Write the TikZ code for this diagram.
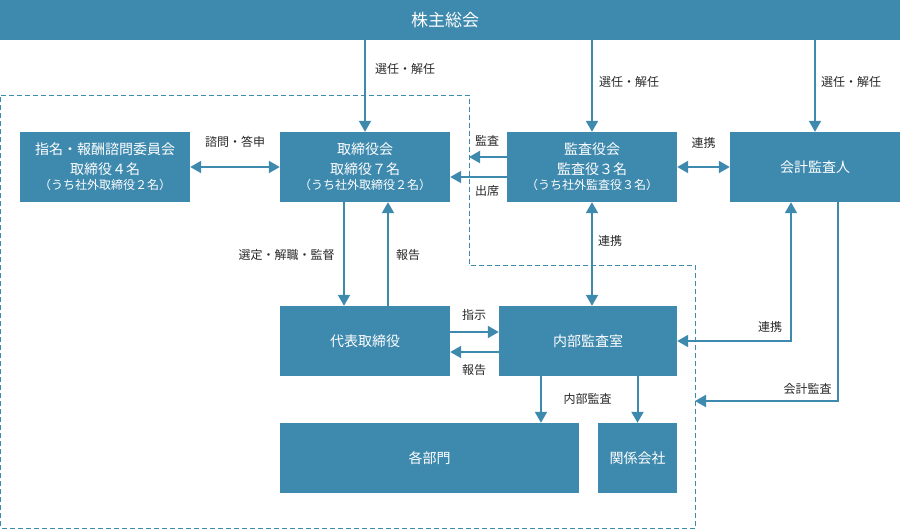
\documentclass[tikz,border=0pt]{standalone}
\usepackage{fontspec}
\setmainfont{Noto Sans CJK JP}
\usetikzlibrary{positioning,arrows.meta,calc}
\definecolor{orgblue}{RGB}{62,137,174}
\definecolor{notegray}{RGB}{40,40,40}
\newcommand{\nebentext}[1]{{\fontsize{12}{15}\selectfont #1}}
\tikzset{
>={Triangle[width=12pt,length=11pt]},
  organ/.style={
    rectangle,
    fill=orgblue,
    text=white,
    minimum width=170pt,
    minimum height=70pt,
    inner sep=0pt,
    align=center,
    font=\fontsize{14}{20}\selectfont},
  line/.style={draw=orgblue, line width=2pt},
  edgetext/.style={text=notegray, inner sep=0pt,
    font=\fontsize{12}{14}\selectfont},
  scopeline/.style={draw=orgblue, line width=1pt, dash pattern=on 5pt off 3pt},
}

\begin{document}
\begin{tikzpicture}[x=1pt,y=-1pt]
  \useasboundingbox (0,0) rectangle (900,530);
  % the dashed area first, so the boxes lie on top
  \coordinate (dA) at (0.5,95);
  \coordinate (dB) at (469,95);
  \coordinate (dC) at (469,265);
  \coordinate (dD) at (695,265);
  \coordinate (dE) at (695,528);
  \coordinate (dF) at (0.5,528);
  \coordinate (kaikeiin) at (695,401);
  \draw[scopeline] (dA) -- (dB) -- (dC) -- (dD) -- (dE) -- (dF) -- cycle;

  \node[organ, minimum width=900pt, minimum height=40pt] (soukai) at (450,20) {};
  \node[text=white, inner sep=0pt, font=\fontsize{17}{20}\selectfont]
    (soukaitxt) at (445,20) {株主総会};
  \node[organ] (iinkai) at (105,167)
    {指名・報酬諮問委員会\\取締役４名\\[-5pt]\nebentext{（うち社外取締役２名）}};
  \node[organ] (torishimari) at (365,167)
    {取締役会\\取締役７名\\[-5pt]\nebentext{（うち社外取締役２名）}};
  \node[organ] (kansa) at (592,167)
    {監査役会\\監査役３名\\[-5pt]\nebentext{（うち社外監査役３名）}};
  \node[organ] (kaikei) at (815,167) {会計監査人};
  \node[organ] (daihyo) at (365,341) {代表取締役};
  \node[organ, minimum width=178pt] (naibu) at (588,341) {内部監査室};
  \node[organ, minimum width=299pt] (kakubu) at (429.5,458) {各部門};
  \node[organ, minimum width=79pt] (kankei) at (637.5,458) {関係会社};

  % from the general meeting
  \draw[line, ->] (soukai.south -| torishimari.north) -- (torishimari.north);
  \draw[line, ->] (soukai.south -| kansa.north) -- (kansa.north);
  \draw[line, ->] (soukai.south -| kaikei.north) -- (kaikei.north);
  \node[edgetext] (wahl1) at (405,69) {選任・解任};
  \node[edgetext] (wahl2) at (629,82) {選任・解任};
  \node[edgetext] (wahl3) at (851,82) {選任・解任};

  % second row
  \draw[line, <->] (iinkai.east) -- (torishimari.west);
  \node[edgetext] (shimon) at (235,142) {諮問・答申};
  \draw[line, ->] ([yshift=10pt]kansa.west) -- ([yshift=10pt]kansa.west -| dB);
  \node[edgetext] (kansatxt) at (487,141) {監査};
  \draw[line, ->] ([yshift=-10pt]kansa.west) -- ([yshift=-10pt]kansa.west -| torishimari.east);
  \node[edgetext] (shusseki) at (487,191) {出席};
  \draw[line, <->] (kansa.east) -- (kaikei.west);
  \node[edgetext] (renkei1) at (703.5,143) {連携};

  % board and representative director
  \draw[line, ->] ([xshift=-21pt]torishimari.south) -- ([xshift=-21pt]daihyo.north);
  \node[edgetext] (kantoku) at (286.5,255) {選定・解職・監督};
  \draw[line, ->] ([xshift=23pt]daihyo.north) -- ([xshift=23pt]torishimari.south);
  \node[edgetext] (houkoku1) at (408,255) {報告};
  \draw[line, <->] (kansa.south) -- (kansa.south |- naibu.north);
  \node[edgetext] (renkei2) at (610,241) {連携};

  \draw[line, ->] ([yshift=9pt]daihyo.east) -- ([yshift=9pt]daihyo.east -| naibu.west);
  \node[edgetext] (shiji) at (474,315) {指示};
  \draw[line, ->] ([yshift=-11pt]naibu.west) -- ([yshift=-11pt]naibu.west -| daihyo.east);
  \node[edgetext] (houkoku2) at (474,370) {報告};

  %% internal audit downwards
  \draw[line, ->] ([xshift=-47pt]naibu.south) -- ([xshift=-47pt]naibu.south |- kakubu.north);
  \draw[line, ->] (naibu.south -| kankei.north) -- (kankei.north);
  \node[edgetext] (naibukansa) at (587.5,399) {内部監査};

  %% auditor on the right
  \draw[line, <->] ([xshift=-24pt]kaikei.south) |- (naibu.east);
  \node[edgetext] (renkei3) at (770,327) {連携};
  \draw[line, ->] ([xshift=23pt]kaikei.south) |- (kaikeiin);
  \node[edgetext] (kaikeikansa) at (807.5,389) {会計監査};
\end{tikzpicture}
\end{document}
